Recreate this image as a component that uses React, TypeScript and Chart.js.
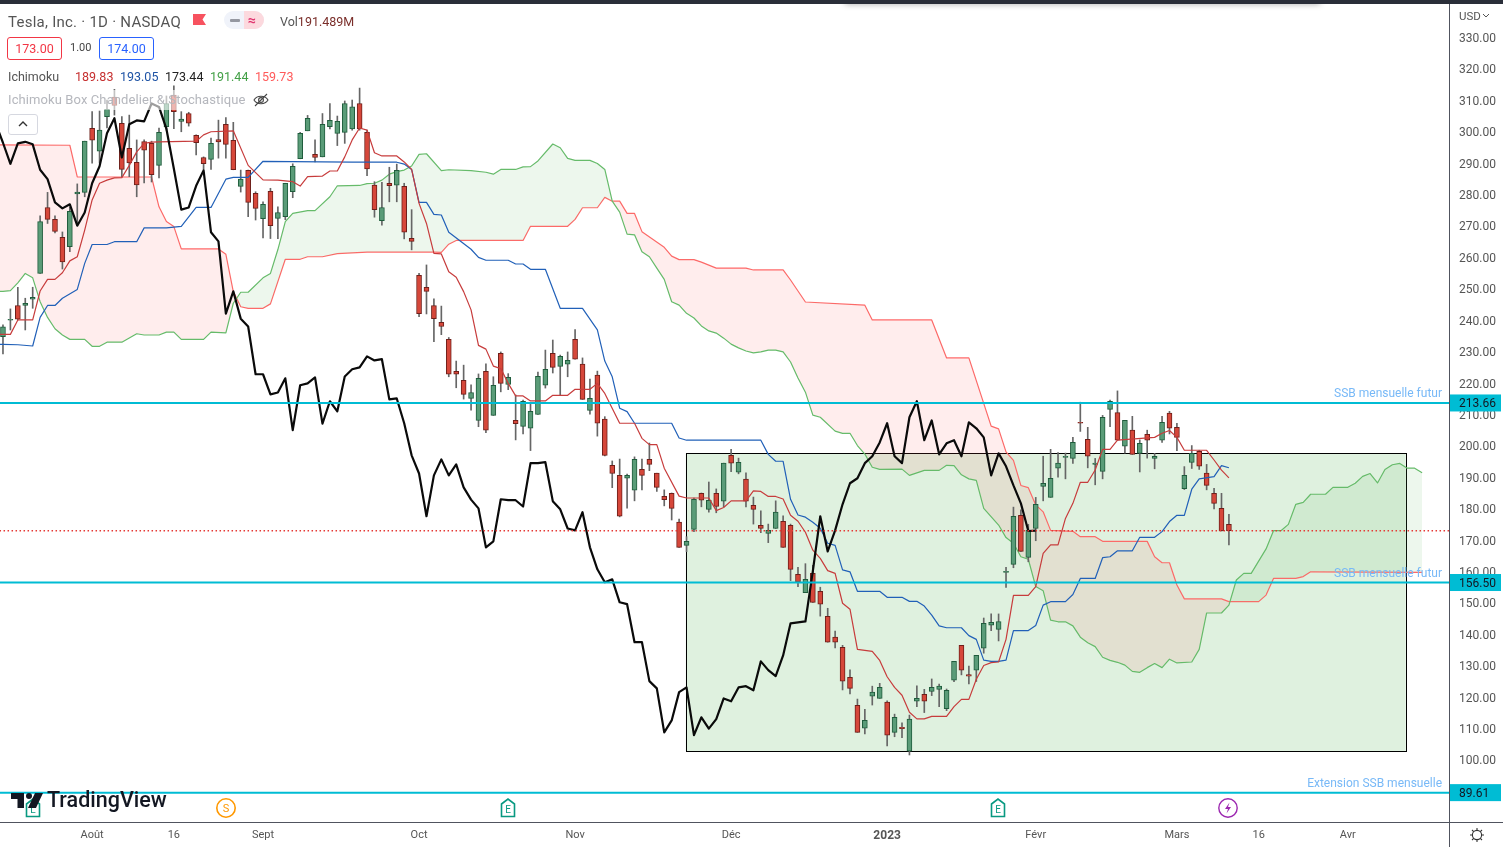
import React, { useEffect, useRef } from "react";
import { Chart, registerables } from "chart.js";

Chart.register(...registerables);

const opens = [
  234.8,240.0,244.7,244.7,246.7,254.9,275.9,272.1,266.4,263.4,
  280.2,280.7,301.1,293.8,304.8,311,302.7,294.7,290.3,296.9,
  296.3,289.3,301.6,311.7,303.3,305.8,298.9,291.8,291.2,297.5,
  302.4,297.3,282.6,287.7,280.4,272.3,281,272.4,273,280.9,
  291.4,300.3,292.8,292,301.6,299.5,299.8,300.9,309,299.8,
  283,271.7,283.6,283,282.6,266.1,254.3,250.5,244.7,239.3,
  233.9,223.7,220.9,215.1,208.1,223.7,209.7,229.5,219.6,208.1,
  206.2,205.6,210,219.3,229.5,225.3,226,233.9,226,211.3,
  222.5,208.5,193.8,190.6,189.7,185.9,192.5,195.7,191.3,183.9,
  184.9,175.7,168.3,173.4,184.9,179.8,184.9,182.4,197,191.6,
  189.4,181.1,174.7,172.1,173.7,176,174.7,159.1,153.3,159.4,
  153.7,145.7,139.1,135.9,126.3,117.4,110.1,120.3,119.6,118.4,
  108.8,110.4,102.8,118.7,120.9,121.8,122.5,116.3,125.4,136.5,
  127.2,128.6,135.6,142.9,141.6,159.7,162.3,177.9,164.5,173.7,
  187.1,183.6,192.9,196.3,196,207.5,202.1,194.1,191.9,211.6,
  210.6,199.9,205,197.6,203.7,196,201.8,210.4,205.9,186.4,
  194.7,198.3,191.3,184.9,180.1,175,
];
const highs = [
  238.5,243.6,250.5,247,250.5,273.2,280.7,273.2,268.1,276,
  283.4,297,306.4,306.6,310.1,313.5,304.8,305.3,297.4,297.4,
  297,301.2,311.4,314.6,306.4,306.2,299,292,298,303.7,
  304.5,303,287.8,287.8,280.9,277.7,282,276.1,283.6,289.8,
  299.8,305.2,297.4,305.8,309,305,309.8,310.1,313.9,300.5,
  284.1,283.9,288.7,289.7,283.6,275.2,254.9,257.6,246.8,244.5,
  234.5,227,225.7,219.4,222.9,226.1,222,229.9,223,216.2,
  214.6,213.7,223.5,230.5,233.7,228.9,229.9,237,228,221.3,
  223.8,209.3,195.2,195.8,191,196.5,195.8,200.9,191.3,186,
  185,176.7,171.1,183.4,185,188.5,186.3,194.5,198.9,196.1,
  191.4,183.7,179.3,175.1,182.5,177.7,175.1,161.3,162.5,162,
  155,148.3,141,136.5,128.7,119.4,116.1,123.5,124.4,118.8,
  114.6,111.8,114.3,123.6,122.5,125.8,124.2,122.6,131.4,136.5,
  129.9,133.3,145.2,146.5,146.5,161.3,180.5,179.6,175,183.6,
  196.7,198.9,197.9,197.7,202.7,213.9,205.9,196,209.7,214.6,
  217.5,208.1,209.4,201.9,205,197.6,209.4,211,207.2,193.4,
  200.1,198.6,194.1,186.5,184.9,178.2,
];
const lows = [
  229.3,236.9,240.1,236.9,243.8,254.9,270.8,267.8,256.3,261.8,
  270.3,279.3,290,290,301.2,305.3,285.7,285.7,279.3,283.7,
  284,285.3,300.5,301,300,301.8,292.6,288,288,291.6,
  291.6,287.9,280.8,273,271.9,266.2,266,266,272,279,
  291.4,300.3,290.4,292,300.9,295.6,296.3,300.5,300.5,286,
  272.8,270.3,277.7,277.7,265.9,262.4,241.1,242,233.2,235.4,
  222,218.5,214.9,211.4,206.1,204.2,209.7,217.2,217.9,201.9,
  203.8,198.5,210,218.4,223.2,216.2,222,227.6,214.8,210.1,
  203.1,196.8,186.7,177.4,180.2,182.5,186,192.1,185.5,180.9,
  176.4,167.7,166.3,172.7,180.6,178.9,178.7,180.6,191.8,191.1,
  180.6,175.1,172.4,169.2,173.7,167.7,157.1,155.2,153.3,150.2,
  145.8,137.5,135.7,122.3,121,108.8,108.3,117.5,119.6,104.5,
  107.4,107.1,101.6,117,115.1,120.5,117,115.7,124.9,127.1,
  124.2,125,134,141.2,137.9,154.9,161.2,166.4,163.1,169.8,
  182.5,183.6,190,189.5,194.4,204.6,193,187.6,189.5,206.1,
  201.8,197.7,197.3,191.7,196.1,192.7,201.1,203.8,198.5,186.1,
  192.8,192.5,186,179.9,172.9,168.5,
];
const closes = [
  237.9,240.3,240.3,245.4,247.3,271.4,272.1,268.3,258.6,274.7,
  280.8,297,297.3,300.5,307.1,308.4,288,290.1,283.1,294.1,
  286.3,299.8,309,306.4,304,302.7,296.5,289.8,296.3,296.8,
  296,287.9,284.9,277.5,275.6,276.9,270.1,274.3,283.6,289,
  299.5,304.3,291.8,302.4,303.6,303.3,309,307.9,300.9,288.2,
  275.2,275.9,282.8,287.7,268,265.1,242.1,249.2,240.5,238,
  222.8,222.8,216.4,217,221.5,205,219.3,219.9,221.8,207.1,
  214.2,211,222.1,224.4,225,228.5,227.2,227.6,214.8,215.1,
  207.2,197,191.2,177.6,190.6,195.7,190.6,194.1,186.8,182.9,
  180.1,167.7,169.6,183,182.7,182.7,180.7,194.5,194.5,194.8,
  182.4,179.8,173.7,173.1,178.9,167.7,160.7,156.6,157.5,150.2,
  149.6,137.5,137.5,125.1,122.8,108.8,112.6,121.6,123.1,107.9,
  113.6,110,113,119.6,118.7,123.1,123.5,122.2,131.4,128.6,
  126.7,133.3,143.5,143.8,144.1,160.1,177.6,166.4,173.1,181.4,
  188.1,189.7,194.5,196.7,201.1,207.2,196.7,194.5,209.1,214.2,
  201.8,208.1,197.3,200.8,201.8,196.7,207.5,205.6,202.7,190.6,
  197.6,193.5,187.4,181.7,172.9,173,
];

const tenkan = [
  [-1,235.5],[1,235.5],[2,240.1],[4,240.1],[5,249.3],[6,253],[7,253],[8,255.1],[9,258.9],[10,260.2],[11,268.7],[12,278.3],
  [13,283.6],[14,284.6],[15,285.3],[16,285.4],[17,289.3],[18,293.6],[19,296.3],[20,296.7],[21,296.8],[26,297],[27,299],[28,300],
  [31,300.3],[33,289.3],[35,284.7],[37,284.6],[39,284.1],[40,282.7],[41,285.7],[43,285.9],[44,287.5],[45,287.5],[46,292],[47,297.4],
  [48,301.2],[49,300.5],[50,293.3],[51,292.3],[53,292.3],[54,290.4],[55,288],[56,277.2],[57,270.8],[58,261.3],[59,261.1],[60,255.4],
  [61,253.7],[62,249.1],[63,243.3],[64,232],[65,230.8],[66,225.4],[67,224.6],[68,219.9],[69,215.9],[70,215.9],[71,214.3],[73,214.3],
  [74,216.1],[76,216.1],[77,218],[79,218],[80,219.9],[81,216.7],[83,207.2],[85,207.2],[86,202.4],[87,200.4],[88,200.4],[89,192.9],
  [91,184],[92,183.4],[95,183.4],[96,179.4],[97,180.4],[98,182.5],[100,182.5],[101,185.7],[102,185.5],[103,183.9],[104,183.9],[105,183.1],
  [106,177.9],[107,176],[108,172.5],[109,166.8],[110,164.2],[111,160.3],[112,159.4],[113,149.9],[114,148],[115,135.2],[117,134.6],[118,131.7],
  [119,126.5],[120,123.1],[121,120.6],[122,115.2],[123,113.1],[124,113.1],[125,113.9],[127,113.9],[128,117],[129,119.3],[130,119.3],[131,125.7],
  [132,130.1],[133,131],[134,131.2],[135,138.4],[136,152.4],[138,152.4],[139,155.2],[140,165.8],[141,168.5],[142,168.5],[143,176.9],[144,181.7],
  [145,188.4],[146,188.4],[147,192.3],[148,198.9],[149,198.9],[150,201.8],[155,202.7],[156,204],[157,204.9],[158,202.7],[159,198.6],[162,198.6],
  [163,195.5],[164,192.3],[165,189.83],
];
const kijun = [
  [-1,232.4],[0,232.3],[2,232.2],[4,231.8],[5,240.9],[6,244.7],[7,244.7],[8,247],[10,249.8],[11,258.1],[12,264.1],[14,264.1],
  [15,265],[18,265],[19,269.4],[22,269.4],[24,269.9],[26,275.9],[28,275.9],[30,284.9],[31,285.5],[33,285.5],[35,290.6],[47,290.3],
  [53,290.3],[54,289.7],[55,288],[56,277.5],[57,277.5],[58,273.7],[59,273.5],[60,268],[63,262.6],[64,260],[65,259.1],[68,259.1],
  [69,257.9],[70,257.9],[71,256.2],[73,256.2],[75,243.8],[78,243.8],[80,236.9],[81,227],[82,222],[83,212],[84,210.9],[85,207.2],
  [90,207.2],[91,202.5],[92,201.8],[102,201.8],[103,197.3],[104,195.1],[105,195.1],[106,183],[107,178],[108,177.3],[109,175.7],[110,173.8],
  [111,169],[112,168.3],[113,160.5],[114,159.9],[115,153.7],[118,153.7],[119,151.8],[121,151.8],[122,150.5],[123,150.5],[124,149],[125,146.1],
  [126,142.7],[127,142.1],[129,142.1],[130,139.6],[131,138.4],[132,131.8],[133,131.4],[134,131.4],[135,131.8],[136,141.2],[138,141.2],[139,142.8],
  [140,149.3],[141,150.4],[143,150.4],[144,152.7],[145,157.8],[147,157.8],[148,164.4],[149,164.7],[150,166.6],[152,166.6],[153,170.9],[155,170.9],
  [156,172.7],[157,175.9],[158,177.9],[159,177.9],[160,186.2],[161,189.5],[163,190.2],[164,193.7],[165,193.05],
];
const spanA = [
  [-1,249.1],[0,249.2],[1,249.4],[2,251.9],[3,254.9],[4,253.5],[5,245.9],[6,240.9],[7,237.3],[8,235.3],[9,233.9],[11,233.9],
  [12,231.7],[13,231.7],[14,233],[16,233],[18,235.7],[19,235.3],[21,235.3],[22,236.2],[23,236.2],[24,233.9],[27,233.9],[28,236.2],
  [30,236],[31,245.4],[32,248.9],[33,248.9],[35,253.5],[36,254.9],[37,262.5],[38,271.4],[39,274],[41,274.9],[42,274.9],[44,279.3],
  [45,282.8],[48,282.9],[49,283.5],[50,283.6],[51,284.6],[52,286.5],[53,287.3],[54,287.8],[55,289.1],[56,292.8],[57,293],[59,287.6],
  [60,287.9],[63,287.6],[65,287.1],[66,286.5],[67,288],[69,288],[70,288.8],[71,288.9],[72,290.7],[74,296.1],[75,294.9],[76,291.5],
  [77,290.9],[79,290.9],[80,289.9],[81,288],[82,277.9],[83,274.4],[84,267.4],[85,267.2],[86,261.8],[87,260.2],[88,256.6],[89,253],
  [90,245.9],[91,244.8],[92,242.2],[93,240.7],[94,238.2],[95,236.6],[96,235.9],[97,234.3],[98,232.4],[99,231.2],[100,230.2],[101,229.6],
  [102,229.9],[103,230.5],[104,230.5],[105,229.9],[106,226.7],[107,221.6],[108,217.1],[109,209.8],[110,209.1],[112,204.7],[113,204],[114,204],
  [115,200.1],[116,197.4],[117,193.2],[118,192.5],[121,192.6],[122,190.6],[124,192.2],[126,192.2],[127,193.8],[128,193.7],[129,190.8],[130,189.5],
  [131,189],[132,180.1],[134,174.8],[135,170.8],[136,169],[137,164.7],[138,163.9],[139,155.2],[140,153.9],[141,144.5],[142,144],[143,144],
  [144,142.7],[145,139.1],[146,137.3],[147,136.1],[148,132.7],[149,131.7],[150,131.1],[151,130.2],[152,128.2],[153,127.9],[154,129.4],[155,130.7],
  [156,129.4],[157,132.1],[158,130.9],[160,131.2],[161,135.2],[162,146.8],[164,146.8],[165,149.3],[166,157.3],[167,159.4],[168,159.4],[170,167.2],
  [171,173],[172,173],[173,175],[174,181.4],[175,182],[176,184.6],[178,184.6],[179,186.8],[181,186.8],[182,188.1],[183,190.3],[184,191.2],
  [185,188.2],[186,192.5],[187,194],[188,194.4],[189,192.9],[190,192.9],[191,191.44],
];
const spanB = [
  [-1,295.8],[9,295.7],[10,285.6],[20,285.6],[21,276.1],[22,271.4],[23,269.8],[24,262.7],[29,262.7],[30,261],[31,249.1],[32,244.3],
  [33,243.8],[35,243.8],[36,245.2],[38,259.4],[40,259.4],[41,260.2],[43,260.2],[45,261.2],[49,261.7],[58,261.7],[59,261.6],[60,264.2],
  [61,265.4],[70,265.4],[71,269.9],[76,269.9],[77,272.1],[78,275.8],[80,275.8],[81,279.1],[82,277.9],[83,277.9],[84,274],[85,274],
  [86,268.2],[89,263.2],[90,260.4],[91,259.3],[93,259.3],[94,258.5],[96,256.6],[100,256.6],[101,256],[105,256],[106,252.8],[108,245.8],
  [116,244.8],[117,240.1],[125,240.1],[127,228],[130,228],[133,206.3],[134,205.4],[135,198.1],[136,195.4],[137,187.4],[138,186.7],[139,181.2],
  [140,179],[141,173.1],[144,172.8],[145,171.1],[147,171.1],[148,169.6],[154,169.6],[155,164.7],[156,162.8],[157,162.8],[158,155.7],[159,151.3],
  [164,151.3],[165,150.4],[169,150.4],[170,152.5],[171,157.8],[174,157.8],[175,158.4],[176,159.9],[191,159.73],
];

const lagBars = 26;
const lastPrice = 173;
const levels = [213.66, 156.5, 89.61];
const levelLabels = ["SSB mensuelle futur", "SSB mensuelle futur", "Extension SSB mensuelle"];
const boxRange = { fromBar: 91.9, toBar: 188.8, top: 197.7, bottom: 102.8 };
const priceTicks = { low: 100, high: 330, step: 10 };
const xTickBars = [12, 23, 35, 56, 77, 98, 119, 139, 158, 169, 181];
const xTickLabels = ["Août", "16", "Sept", "Oct", "Nov", "Déc", "2023", "Févr", "Mars", "16", "Avr"];

const pairs = (a: number[][]) => a.map(([x, y]) => ({ x, y }));
const FONT = "Roboto, sans-serif";

const overlays = {
  id: "overlays",
  beforeDatasetsDraw(chart: any) {
    const { ctx, scales } = chart;
    const x0 = scales.x.getPixelForValue(boxRange.fromBar);
    const x1 = scales.x.getPixelForValue(boxRange.toBar);
    const y0 = scales.y.getPixelForValue(boxRange.top);
    const y1 = scales.y.getPixelForValue(boxRange.bottom);
    ctx.save();
    ctx.fillStyle = "rgba(76,175,80,0.18)";
    ctx.fillRect(x0, y0, x1 - x0, y1 - y0);
    ctx.strokeStyle = "#000";
    ctx.lineWidth = 1;
    ctx.strokeRect(Math.round(x0) + 0.5, Math.round(y0) + 0.5, Math.round(x1 - x0), Math.round(y1 - y0));
    ctx.restore();
  },
  afterDraw(chart: any) {
    const { ctx, scales, chartArea } = chart;
    ctx.save();
    levels.forEach((v, k) => {
      const y = scales.y.getPixelForValue(v);
      ctx.fillStyle = "#00bcd4";
      ctx.fillRect(chartArea.right, y - 8.5, 52, 17);
      ctx.fillStyle = "#131722";
      ctx.font = `12px ${FONT}`;
      ctx.textAlign = "left";
      ctx.textBaseline = "middle";
      ctx.fillText(v.toFixed(2), chartArea.right + 10, y + 1.5);
      ctx.fillStyle = "#78b9f7";
      ctx.textAlign = "right";
      ctx.fillText(levelLabels[k], chartArea.right - 7, y - 9);
    });
    ctx.restore();
  },
};

const abs = (left: number, top: number, extra: React.CSSProperties = {}): React.CSSProperties => ({
  position: "absolute",
  left,
  top,
  fontFamily: FONT,
  whiteSpace: "nowrap",
  ...extra,
});

function TagIcon({ x, letter }: { x: number; letter: string }) {
  return (
    <svg style={{ position: "absolute", left: x - 10, top: 797 }} width={20} height={22}>
      <path d="M3.5 7 L10 2 L16.5 7 V19.5 H3.5 Z" fill="#fff" stroke="#089981" strokeWidth={1.6} />
      <text x={10} y={16} textAnchor="middle" fontSize={10} fontFamily={FONT} fill="#089981">{letter}</text>
    </svg>
  );
}

export default function App() {
  const ref = useRef<HTMLCanvasElement>(null);

  useEffect(() => {
    const n = closes.length;
    const idx = Array.from({ length: n }, (_, i) => i);
    const up = (i: number) => closes[i] >= opens[i];
    const lagged = [];
    for (let i = lagBars - 1; i < n; i++) lagged.push({ x: i - lagBars, y: closes[i] });
    const lineBase = { type: "line", pointRadius: 0, tension: 0, borderWidth: 1.2, borderJoinStyle: "round" };

    const chart = new Chart(ref.current as HTMLCanvasElement, {
      type: "bar",
      data: {
        datasets: [
          { ...lineBase, label: "Span B", data: pairs(spanB), borderColor: "#ff6b6b", order: 10 },
          {
            ...lineBase,
            label: "Span A",
            data: pairs(spanA),
            borderColor: "#66bb6a",
            order: 9,
            fill: { target: 0, above: "rgba(76,175,80,0.1)", below: "rgba(255,82,82,0.1)" },
          },
          {
            label: "Wicks",
            data: idx.map((i) => ({ x: i, y: [lows[i], highs[i]] })),
            backgroundColor: "#666",
            barThickness: 1,
            grouped: false,
            order: 7,
          },
          {
            label: "Bodies",
            data: idx.map((i) => ({ x: i, y: [opens[i], closes[i]] })),
            backgroundColor: idx.map((i) => (up(i) ? "#5a9c78" : "#d6473a")),
            borderColor: idx.map((i) => (up(i) ? "#1f5c3c" : "#6e1f1a")),
            borderWidth: 1,
            borderSkipped: false,
            barThickness: 5,
            grouped: false,
            order: 6,
          },
          { ...lineBase, label: "Kijun", data: pairs(kijun), borderColor: "#2160b8", order: 5 },
          { ...lineBase, label: "Tenkan", data: pairs(tenkan), borderColor: "#c73c3c", order: 4 },
          { ...lineBase, label: "Chikou", data: lagged, borderColor: "#0a0a0a", borderWidth: 2.2, order: 3 },
          {
            ...lineBase,
            label: "Last",
            data: [{ x: -1, y: lastPrice }, { x: 195, y: lastPrice }],
            borderColor: "#e53935",
            borderWidth: 1.4,
            borderDash: [1.5, 2.5],
            order: 2,
          },
          ...levels.map((v) => ({
            ...lineBase,
            label: "Level " + v,
            data: [{ x: -1, y: v }, { x: 195, y: v }],
            borderColor: "#00bcd4",
            borderWidth: 2,
            order: 1,
          })),
        ] as any,
      },
      options: {
        animation: false,
        responsive: false,
        devicePixelRatio: 1,
        layout: { padding: { top: 4, left: 0, right: 0, bottom: 0 } },
        plugins: { legend: { display: false }, tooltip: { enabled: false } },
        scales: {
          x: {
            type: "linear",
            min: -0.4,
            max: 194.62,
            offset: false,
            grid: { display: false },
            border: { display: false },
            afterBuildTicks: (s: any) => {
              s.ticks = xTickBars.map((value) => ({ value }));
            },
            afterFit: (s: any) => {
              s.height = 25;
              s.paddingLeft = s.paddingRight = 0;
            },
            ticks: {
              autoSkip: false,
              maxRotation: 0,
              padding: -1,
              color: "#555",
              font: (c: any) =>
                c.tick && c.tick.value === 119
                  ? { family: FONT, size: 12, weight: "bold" }
                  : { family: FONT, size: 11 },
              callback: (v: any) => xTickLabels[xTickBars.indexOf(v)],
            },
          },
          y: {
            type: "linear",
            position: "right",
            min: 80.26,
            max: 340.67,
            grid: { display: false },
            border: { display: false },
            afterFit: (s: any) => {
              s.width = 54;
              s.paddingTop = s.paddingBottom = 0;
            },
            ticks: {
              autoSkip: false,
              includeBounds: false,
              stepSize: priceTicks.step,
              padding: 2,
              labelOffset: 1.5,
              color: "#555",
              font: { family: FONT, size: 12 },
              callback: (v: any) => (v >= priceTicks.low && v <= priceTicks.high ? Number(v).toFixed(2) : null),
            },
          },
        },
      } as any,
      plugins: [overlays],
    });
    return () => chart.destroy();
  }, []);

  return (
    <div style={{ position: "fixed", left: 0, top: 0, width: 1503, height: 847, background: "#fff", overflow: "hidden" }}>
      <canvas ref={ref} width={1503} height={847} style={{ position: "absolute", left: 0, top: 0, width: 1503, height: 847 }} />

      {/* frame */}
      <div style={{ position: "absolute", left: 845, top: -4, width: 475, height: 6, boxShadow: "0 2px 6px rgba(0,0,0,.35)" }} />
      <div style={{ position: "absolute", left: 0, top: 0, width: 1503, height: 4, background: "#2a2e39" }} />
      <div style={{ position: "absolute", left: 1449, top: 4, width: 1, height: 843, background: "#50535e" }} />
      <div style={{ position: "absolute", left: 0, top: 822, width: 1503, height: 1, background: "#50535e" }} />

      {/* header */}
      <div style={abs(8, 13, { fontSize: 15, letterSpacing: 0.25, color: "#555", lineHeight: "18px" })}>Tesla, Inc. · 1D · NASDAQ</div>
      <svg style={{ position: "absolute", left: 193, top: 14 }} width={13} height={12}>
        <path d="M0 0 H13 L9.5 5.5 L13 11 H0 Z" fill="#f7525f" />
      </svg>
      <div style={{ position: "absolute", left: 224, top: 11, width: 40, height: 18, borderRadius: 9, background: "#f0f3fa", overflow: "hidden" }}>
        <div style={{ position: "absolute", left: 20, top: 0, width: 20, height: 18, background: "#fcd9de" }} />
        <div style={{ position: "absolute", left: 6, top: 8, width: 10, height: 3, borderRadius: 1, background: "#9598a1" }} />
        <div style={abs(24, 0, { fontSize: 14, lineHeight: "18px", color: "#e0336e", fontWeight: 700 })}>≈</div>
      </div>
      <div style={abs(280, 14, { fontSize: 12.5, lineHeight: "16px", color: "#555" })}>
        Vol<span style={{ color: "#7a2e2a" }}>191.489M</span>
      </div>

      <div style={abs(7, 37, { width: 53, height: 21, border: "1px solid #f23645", borderRadius: 3, color: "#f23645", fontSize: 12.5, lineHeight: "21px", textAlign: "center" })}>173.00</div>
      <div style={abs(70, 40, { fontSize: 11, lineHeight: "16px", color: "#444" })}>1.00</div>
      <div style={abs(99, 37, { width: 53, height: 21, border: "1px solid #2962ff", borderRadius: 3, color: "#2962ff", fontSize: 12.5, lineHeight: "21px", textAlign: "center" })}>174.00</div>

      <div style={abs(8, 69, { fontSize: 12.5, lineHeight: "16px", color: "#555" })}>Ichimoku</div>
      <div style={abs(75, 69, { fontSize: 12.5, lineHeight: "16px", color: "#c62f2f" })}>189.83</div>
      <div style={abs(120, 69, { fontSize: 12.5, lineHeight: "16px", color: "#1e53a5" })}>193.05</div>
      <div style={abs(165, 69, { fontSize: 12.5, lineHeight: "16px", color: "#222" })}>173.44</div>
      <div style={abs(210, 69, { fontSize: 12.5, lineHeight: "16px", color: "#43a047" })}>191.44</div>
      <div style={abs(255, 69, { fontSize: 12.5, lineHeight: "16px", color: "#ff5a5a" })}>159.73</div>

      <div style={{ position: "absolute", left: 8, top: 90, width: 236, height: 20, background: "rgba(255,255,255,.6)" }} />
      <div style={abs(8, 92, { fontSize: 13, letterSpacing: 0.1, lineHeight: "16px", color: "#b5b7bd" })}>Ichimoku Box Chandelier &amp; Stochastique</div>
      <svg style={{ position: "absolute", left: 252, top: 92 }} width={18} height={16} fill="none" stroke="#444" strokeWidth={1.1}>
        <path d="M2 8 C5 3 13 3 16 8 C13 13 5 13 2 8 Z" />
        <circle cx={9} cy={8} r={2.4} />
        <path d="M3 14 L15 2" />
      </svg>
      <div style={{ position: "absolute", left: 8, top: 114, width: 28, height: 19, border: "1px solid #d6d8e0", borderRadius: 3, background: "#fff" }}>
        <svg width={28} height={19} fill="none" stroke="#333" strokeWidth={1.4}><path d="M10 11 L14 7 L18 11" /></svg>
      </div>

      {/* currency */}
      <div style={abs(1459, 9, { fontSize: 11.5, lineHeight: "14px", color: "#555" })}>USD</div>
      <svg style={{ position: "absolute", left: 1482, top: 13 }} width={8} height={6} fill="none" stroke="#555" strokeWidth={1}><path d="M1 1 L4 4 L7 1" /></svg>

      {/* event marks */}
      <TagIcon x={33} letter="L" />
      <TagIcon x={508} letter="E" />
      <TagIcon x={998} letter="E" />
      <svg style={{ position: "absolute", left: 215, top: 797 }} width={22} height={22}>
        <circle cx={11} cy={11} r={9.2} fill="#fff" stroke="#ff9800" strokeWidth={1.6} />
        <text x={11} y={15} textAnchor="middle" fontSize={11} fontFamily={FONT} fill="#ff9800">S</text>
      </svg>
      <svg style={{ position: "absolute", left: 1217, top: 797 }} width={22} height={22}>
        <circle cx={11} cy={11} r={9.2} fill="#fff" stroke="#9c27b0" strokeWidth={1.4} />
        <path d="M12.5 5.5 L8 12 H11 L9.5 16.5 L14 10 H11 Z" fill="#9c27b0" />
      </svg>

      {/* brand */}
      <svg style={{ position: "absolute", left: 11, top: 792 }} width={34} height={18}>
        <path d="M0 1 H13 V16 H6.5 V7 H0 Z" fill="#131722" />
        <circle cx={18} cy={4} r={3} fill="#131722" />
        <path d="M24 1 H32 L25 16 H17 Z" fill="#131722" />
      </svg>
      <div style={abs(47, 788, { fontSize: 21.5, lineHeight: "24px", color: "#131722", fontWeight: 500 })}>TradingView</div>

      {/* settings */}
      <svg style={{ position: "absolute", left: 1469, top: 827 }} width={16} height={16} fill="none" stroke="#333" strokeWidth={1.1}>
        <circle cx={8} cy={8} r={4.6} />
        <path d="M8 1 V3.4 M8 12.6 V15 M1 8 H3.4 M12.6 8 H15 M3 3 L4.7 4.7 M11.3 11.3 L13 13 M3 13 L4.7 11.3 M11.3 4.7 L13 3" />
      </svg>
    </div>
  );
}
